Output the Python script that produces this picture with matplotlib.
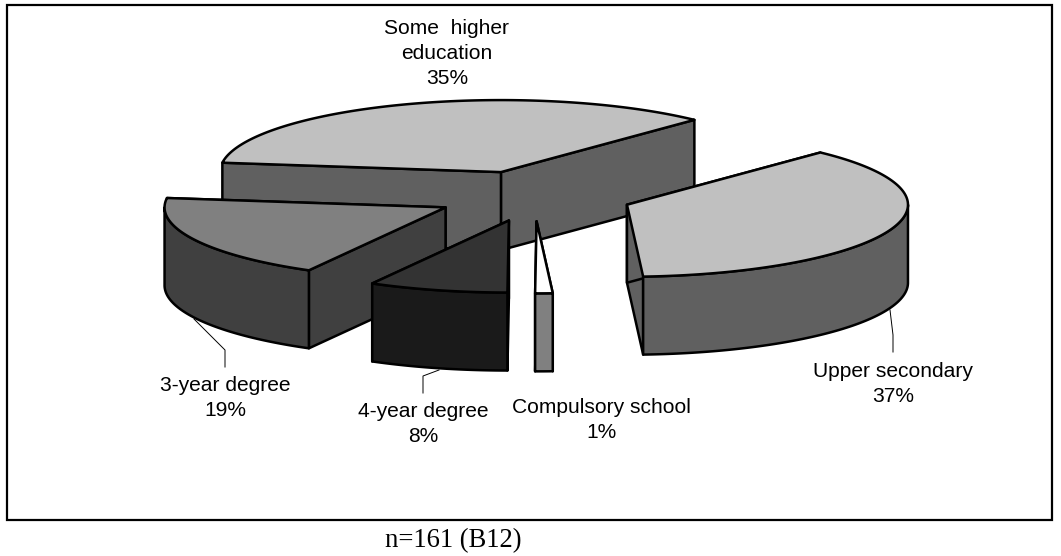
import numpy as np
import matplotlib
matplotlib.use("Agg")
import matplotlib.pyplot as plt
from matplotlib.patches import Polygon, Rectangle

# Data (counter-clockwise from the start angle)
categories = ["Some  higher\neducation", "3-year degree", "4-year degree", "Compulsory school", "Upper secondary"]
values = [35, 19, 8, 1, 37]
top_colors = ["#c0c0c0", "#808080", "#333333", "#ffffff", "#c0c0c0"]
side_colors = ["#606060", "#404040", "#1a1a1a", "#808080", "#606060"]
label_pos = [(447, 53.5), (225, 398), (423, 424), (601, 420), (893, 384)]
leaders = [None,
           [(194, 319), (225, 350), (225, 367)],
           [(439, 370), (423, 376), (423, 393)],
           None,
           [(890, 310), (893, 335), (893, 352)]]
caption = "n=161 (B12)"

# Projection of the pie, in pixels
W, H = 1061, 556
CX, CY, RX, RY, DEPTH, EXPLODE, START = 534, 196, 281, 72, 78, 99, 46.5

plt.rcParams["font.family"] = ["Liberation Sans", "DejaVu Sans"]
fig = plt.figure(figsize=(W / 100, H / 100), dpi=100)
ax = fig.add_axes([0, 0, 1, 1])
ax.set_xlim(0, W)
ax.set_ylim(H, 0)
ax.axis("off")

ax.add_patch(Rectangle((7, 5), 1045, 515, fc="white", ec="black", lw=1.6, zorder=0))

def project(t, ox, oy, r=1.0):
    return ox + r * RX * np.cos(t), oy - r * RY * np.sin(t)

LW = 1.8
fracs = np.array(values, dtype=float) / sum(values) * 360
starts = START + np.concatenate([[0], np.cumsum(fracs)[:-1]])
z = 1
for val, st, span, ct, cs in zip(values, starts, fracs, top_colors, side_colors):
    t0, t1 = np.radians(st), np.radians(st + span)
    mid = (t0 + t1) / 2
    ox, oy = project(mid, CX, CY, EXPLODE / RX)
    p0 = project(t0, ox, oy)
    p1 = project(t1, ox, oy)
    # radial walls
    for p in (p0, p1):
        wall = [(ox, oy), p, (p[0], p[1] + DEPTH), (ox, oy + DEPTH)]
        ax.add_patch(Polygon(wall, closed=True, fc=cs, ec="black", lw=LW, joinstyle="round", zorder=z))
        z += 1
    # outer wall: the part of the rim facing the viewer
    ts = np.linspace(t0, t1, 200)
    for a, b in [(np.pi, 2 * np.pi), (3 * np.pi, 4 * np.pi)]:
        lo, hi = max(t0, a), min(t1, b)
        if hi > lo:
            tt = np.linspace(lo, hi, 200)
            x, y = project(tt, ox, oy)
            pts = list(zip(x, y)) + list(zip(x[::-1], y[::-1] + DEPTH))
            ax.add_patch(Polygon(pts, closed=True, fc=cs, ec="black", lw=LW, joinstyle="round", zorder=z))
            z += 1
    # top face
    x, y = project(ts, ox, oy)
    pts = [(ox, oy)] + list(zip(x, y))
    ax.add_patch(Polygon(pts, closed=True, fc=ct, ec="black", lw=LW, joinstyle="round", zorder=z))
    z += 1

for cat, val, pos, lead in zip(categories, values, label_pos, leaders):
    ax.text(pos[0], pos[1], f"{cat}\n{val}%", ha="center", va="center", fontsize=15.1,
            color="black", linespacing=1.42, zorder=z)
    if lead:
        ax.plot(*zip(*lead), color="black", lw=0.7, zorder=z)

ax.text(453, 541, caption, ha="center", va="center", fontsize=19.2,
        family=["Liberation Serif", "DejaVu Serif"], color="black")

fig.savefig("out.png", dpi=100)
